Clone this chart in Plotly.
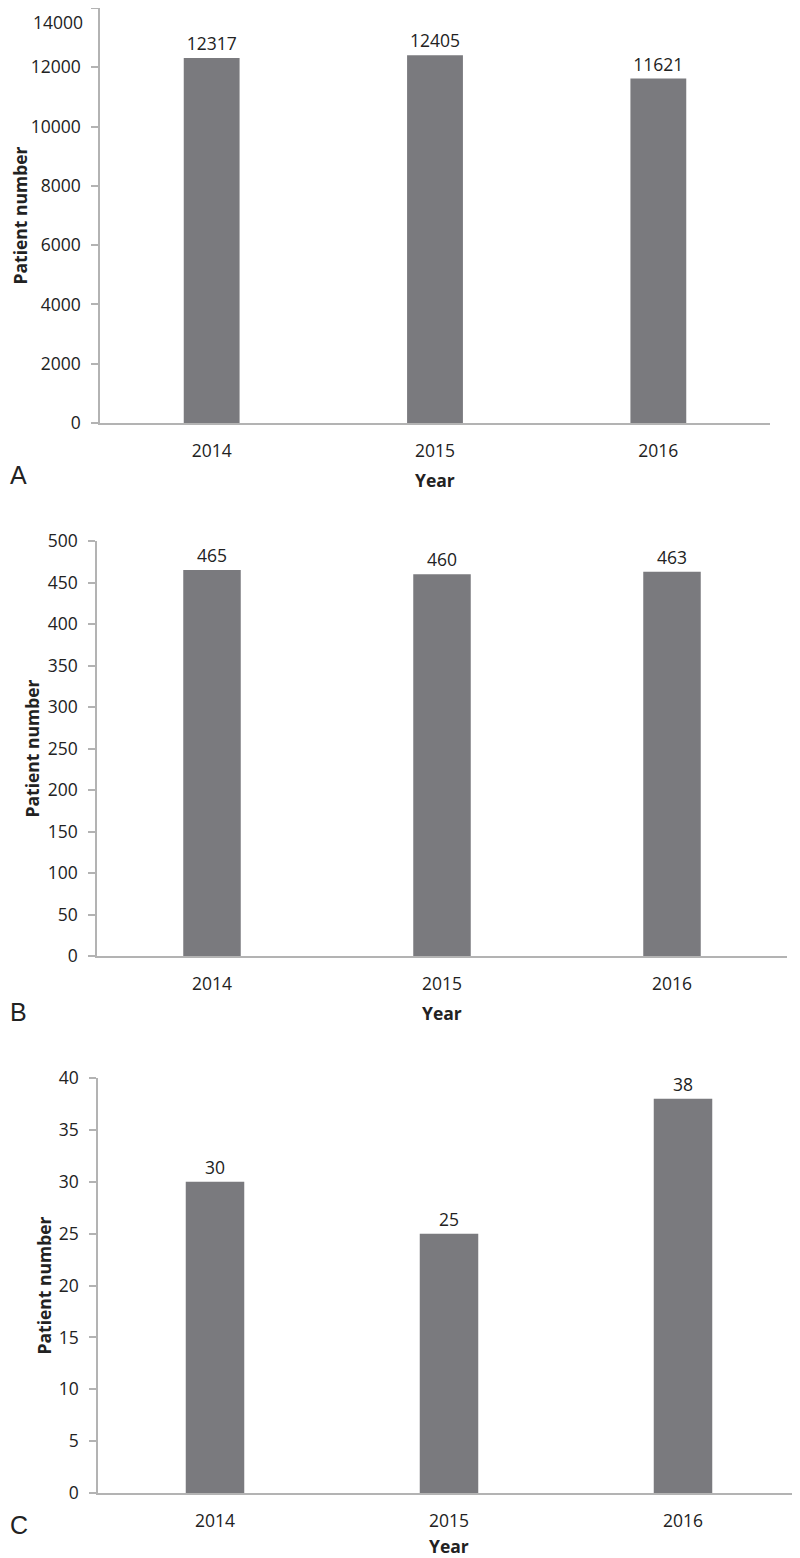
import plotly.graph_objects as go

years = ["2014", "2015", "2016"]
patients_a = [12317, 12405, 11621]
patients_b = [465, 460, 463]
patients_c = [30, 25, 38]
panel_labels = ["A", "B", "C"]
y_title = "Patient number"
x_title = "Year"
yticks_a = [0, 2000, 4000, 6000, 8000, 10000, 12000, 14000]
yticks_b = [0, 50, 100, 150, 200, 250, 300, 350, 400, 450, 500]
yticks_c = [0, 5, 10, 15, 20, 25, 30, 35, 40]

# the page places the figure 8px from the top-left corner (body margin),
# so the figure is built 8px smaller and coordinates are shifted by -8.
OFF = 8
W, H = 800 - OFF, 1558 - OFF
BAR = "#7a7a7e"
AX = "#b3b3b3"
TXT = "#222222"
FONT = "Open Sans"
FS = 17.5

# screen-pixel geometry of each panel: (x_left, x_right, y_top, y_bottom)
panels = [
    (100, 770, 8, 423),
    (97, 787, 541, 956),
    (98, 800, 1078, 1493),
]
ytitle_x = [19, 31, 43]
letter_y = [475, 1012, 1525]
year_y = [480, 1013, 1546]
data = [patients_a, patients_b, patients_c]
ticks = [yticks_a, yticks_b, yticks_c]


def px(x):
    return (x - OFF) / W


def py(y):
    return 1 - (y - OFF) / H


fig = go.Figure()
for i, (vals, (xl, xr, yt, yb), tv) in enumerate(zip(data, panels, ticks)):
    n = "" if i == 0 else str(i + 1)
    top = py(yt)
    ttext = [str(v) for v in tv]
    if top >= 0.999:
        # top label would fall past the page edge: draw it just inside
        ttext[-1] = ""
        fig.add_annotation(
            x=px(xl - 15), y=1.0, xref="paper", yref="paper", text=str(tv[-1]),
            showarrow=False, xanchor="right", yanchor="top",
            font=dict(family=FONT, size=FS, color=TXT),
        )
    fig.add_trace(go.Bar(
        x=years, y=vals, width=0.25, marker=dict(color=BAR, line=dict(width=0)),
        text=[str(v) for v in vals], textposition="outside",
        textfont=dict(family=FONT, size=FS, color=TXT), cliponaxis=False,
        xaxis="x" + n, yaxis="y" + n, showlegend=False, hoverinfo="skip",
    ))
    fig.update_layout(**{
        "xaxis" + n: dict(
            type="category", domain=[px(xl), min(px(xr), 1.0)], anchor="y" + n,
            showgrid=False, automargin=False, zeroline=False,
            showline=True, linecolor=AX, linewidth=1.5, ticks="",
            tickfont=dict(family=FONT, size=FS, color=TXT), ticklabelstandoff=11,
            fixedrange=True,
        ),
        "yaxis" + n: dict(
            domain=[py(yb), min(top, 1.0)], anchor="x" + n, range=[0, tv[-1]],
            tickmode="array", tickvals=tv, ticktext=ttext,
            showgrid=False, zeroline=False, automargin=False,
            showline=True, linecolor=AX, linewidth=1.5, ticks="outside",
            ticklen=7, tickcolor=AX, tickwidth=1.5,
            tickfont=dict(family=FONT, size=FS, color=TXT), ticklabelstandoff=7,
            fixedrange=True,
        ),
    })
    fig.add_annotation(
        x=px(ytitle_x[i]), y=py((yt + yb) / 2), xref="paper", yref="paper",
        text="<b>" + y_title + "</b>", textangle=-90, showarrow=False,
        font=dict(family=FONT, size=FS, color=TXT), xanchor="center", yanchor="middle",
    )
    fig.add_annotation(
        x=px((xl + xr) / 2), y=py(year_y[i]), xref="paper", yref="paper",
        text="<b>" + x_title + "</b>", showarrow=False,
        font=dict(family=FONT, size=FS, color=TXT), xanchor="center", yanchor="middle",
    )
    fig.add_annotation(
        x=0, y=py(letter_y[i]), xref="paper", yref="paper",
        text=panel_labels[i], showarrow=False,
        font=dict(family="Liberation Sans", size=25, color=TXT), xanchor="left", yanchor="middle",
    )

fig.update_layout(
    template="none",
    width=W, height=H, margin=dict(l=0, r=0, t=0, b=0, autoexpand=False),
    paper_bgcolor="white", plot_bgcolor="white",
)
fig.write_html("out.html")
